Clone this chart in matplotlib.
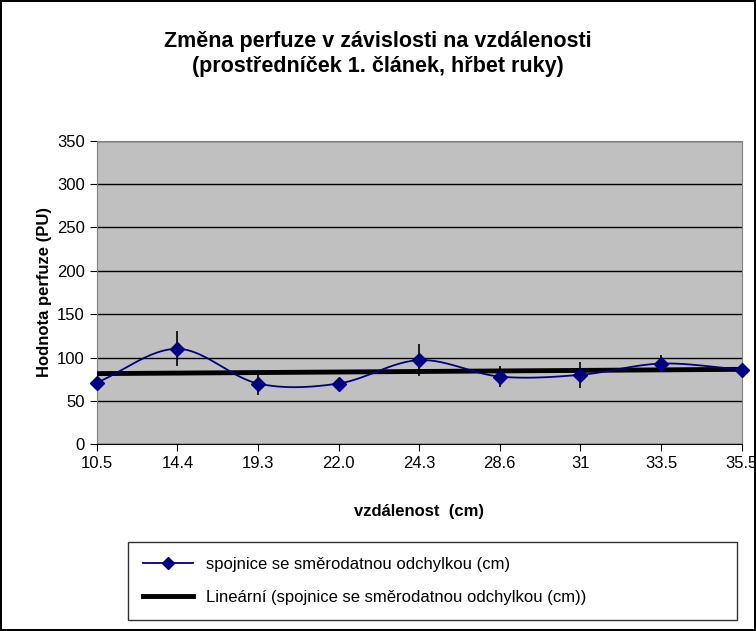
import matplotlib.pyplot as plt
import numpy as np
from matplotlib.lines import Line2D

plt.rcParams['font.family'] = 'Liberation Sans'

labels = ['10.5', '14.4', '19.3', '22.0', '24.3', '28.6', '31', '33.5', '35.5']
values = [71, 110, 70, 70, 97, 78, 80, 93, 86]
errors = [0, 20, 13, 3, 18, 12, 15, 10, 5]

x = np.arange(len(values))
y = np.array(values, dtype=float)

# smoothed line (Catmull-Rom, like Excel's smoothed line)
def catmull(px, py, n=30):
    px = np.concatenate([[2*px[0]-px[1]], px, [2*px[-1]-px[-2]]])
    py = np.concatenate([[2*py[0]-py[1]], py, [2*py[-1]-py[-2]]])
    xs, ys = [], []
    t = np.linspace(0, 1, n)
    for i in range(1, len(px) - 2):
        for p, out in ((px, xs), (py, ys)):
            p0, p1, p2, p3 = p[i-1], p[i], p[i+1], p[i+2]
            out.extend(0.5*((2*p1) + (-p0+p2)*t + (2*p0-5*p1+4*p2-p3)*t**2 + (-p0+3*p1-3*p2+p3)*t**3))
    return np.array(xs), np.array(ys)

sx, sy = catmull(x.astype(float), y)
k, b = np.polyfit(x, y, 1)

fig = plt.figure(figsize=(7.56, 6.31), dpi=100)
fig.patch.set_edgecolor('black')
fig.patch.set_linewidth(1.5)
ax = fig.add_axes([0.128, 0.296, 0.853, 0.481])
ax.set_facecolor('#c0c0c0')
ax.set_ylim(0, 350)
ax.set_xlim(0, 8)
ax.set_yticks(range(0, 351, 50))
ax.yaxis.grid(True, color='black', linewidth=1)
ax.set_axisbelow(True)
for s in ['top', 'right']:
    ax.spines[s].set_color('#808080')
ax.spines['left'].set_color('#808080')
ax.spines['bottom'].set_color('black')
ax.set_xticks(x)
ax.set_xticklabels(labels)
ax.tick_params(labelsize=12, direction='out', length=5)

ax.errorbar(x, y, yerr=errors, fmt='none', ecolor='black', elinewidth=1.2, capsize=0, zorder=3)
ax.plot(x, k*x + b, color='black', linewidth=3.5, zorder=4)
ax.plot(sx, sy, color='#000080', linewidth=1.3, zorder=5)
ax.plot(x, y, 'D', color='#000080', markersize=7, zorder=6, clip_on=False)

ax.set_xlabel('vzdálenost  (cm)', fontsize=12, fontweight='bold', labelpad=24)
ax.set_ylabel('Hodnota perfuze (PU)', fontsize=12, fontweight='bold', labelpad=4)
fig.text(0.5, 0.914, 'Změna perfuze v závislosti na vzdálenosti\n(prostředníček 1. článek, hřbet ruky)',
         ha='center', va='center', fontsize=15.5, fontweight='bold', linespacing=1.25)

h1 = Line2D([], [], color='#000080', marker='D', markersize=6, linewidth=1.3)
h2 = Line2D([], [], color='black', linewidth=3.5)
leg = fig.legend([h1, h2], ['spojnice se směrodatnou odchylkou (cm)',
                            'Lineární (spojnice se směrodatnou odchylkou (cm))'],
                 loc='lower left', bbox_to_anchor=(0.169, 0.017, 0.806, 0.127), mode='expand',
                 borderaxespad=0, fontsize=12, frameon=True, fancybox=False, edgecolor='black',
                 handlelength=3, labelspacing=1.1, borderpad=0.9)
leg.get_frame().set_linewidth(1)

fig.savefig('out.png', dpi=100, edgecolor=fig.get_edgecolor())
